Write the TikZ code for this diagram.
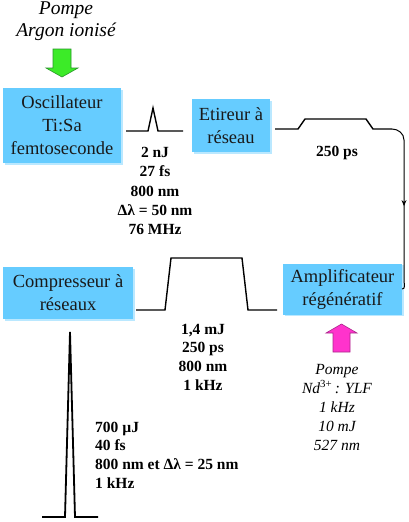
\documentclass[tikz,border=0pt]{standalone}
\usepackage{fontspec}
\setmainfont{Liberation Serif}
\usetikzlibrary{arrows.meta,decorations.markings,shadows}
\definecolor{boxblue}{RGB}{102,204,255}
\definecolor{pumpgreen}{RGB}{60,235,40}
\definecolor{pumpgreenedge}{RGB}{40,150,40}
\definecolor{pumpmag}{RGB}{255,51,204}
\definecolor{pumpmagedge}{RGB}{170,40,140}
\tikzset{
  stage/.style={fill=boxblue, inner sep=0pt, align=center, text=black!90,
    font=\fontsize{18.5}{23}\selectfont,
    drop shadow={shadow xshift=1.5pt, shadow yshift=-1.5pt, fill=boxblue!45, opacity=1}},
  data/.style={align=center, inner sep=0pt, font=\fontsize{15.5}{19.2}\selectfont\bfseries},
  datal/.style={align=left, anchor=west, inner sep=0pt, font=\fontsize{15.5}{18.7}\selectfont\bfseries},
  pumptext/.style={align=center, inner sep=0pt, font=\fontsize{15.5}{19}\selectfont\itshape},
  pulse/.style={line width=1.4pt, line join=miter},
  conn/.style={line width=1pt, postaction={decorate},
    decoration={markings, mark=at position 0.5 with {\arrow{Stealth[length=6pt,width=5pt]}}}},
}
\begin{document}
\begin{tikzpicture}[x=1pt,y=-1pt]
\useasboundingbox (0,0) rectangle (409,522);
\fill[white] (0,0) rectangle (409,522);

% top pump
\node[pumptext, font=\fontsize{19.5}{22}\selectfont\itshape] (pumpA) at (66,21) {Pompe\\Argon ionisé};
\draw[fill=pumpgreen, draw=pumpgreenedge, line width=0.6pt]
  (53,49) -- (71,49) -- (71,68) -- (78,68) -- (62,77) -- (46,68) -- (53,68) -- cycle;

% boxes
\node[stage, minimum width=118pt, minimum height=75pt] (osc) at (62,125.5) {Oscillateur\\Ti:Sa\\femtoseconde};
\node[stage, minimum width=78pt, minimum height=53pt] (str) at (231,125.5) {Etireur à\\réseau};
\node[stage, minimum width=130pt, minimum height=52pt] (comp) at (68,293) {Compresseur à\\réseaux};
\node[stage, minimum width=119pt, minimum height=51pt] (amp) at (342.5,289) {Amplificateur\\régénératif};

% pulse 1
\coordinate (p1s) at (126,131);
\coordinate (p1e) at (183,131);
\draw[pulse] (p1s) -- (148,131) -- (153,108) -- (158,131) -- (p1e);
\node[data] (d1) at (155,191) {2 nJ\\27 fs\\800 nm\\Δλ = 50 nm\\76 MHz};

% pulse 2
\coordinate (p2s) at (275,129);
\coordinate (p2e) at (392,129);
\draw[pulse] (p2s) -- (298,129) -- (305,119) -- (366,119) -- (373,129) -- (p2e);
\node[data] (d2) at (337,153) {250 ps};

% connector stretcher -> amplifier
\draw[conn] (p2e) to[out=0,in=90] (404,140) -- (404,280) to[out=-90,in=0] (amp.east);

% pulse 3
\coordinate (p3s) at (136,310);
\coordinate (p3e) at (277,310);
\draw[pulse] (p3s) -- (165,310) -- (171,258) -- (242,258) -- (248,310) -- (p3e);
\node[data, font=\fontsize{15.5}{18.7}\selectfont\bfseries] (d3) at (203,357) {1,4 mJ\\250 ps\\800 nm\\1 kHz};

% bottom pump
\draw[fill=pumpmag, draw=pumpmagedge, line width=0.6pt]
  (333,352) -- (350,352) -- (350,333) -- (357,333) -- (341.5,324) -- (326,333) -- (333,333) -- cycle;
\node[pumptext] (pumpB) at (337,407) {Pompe\\Nd\textsuperscript{\upshape 3+}\,: YLF\\1 kHz\\10 mJ\\527 nm};

% output pulse
\coordinate (p4s) at (42,517);
\coordinate (p4e) at (98,517);
\draw[pulse, line width=1.8pt] (p4s) -- (65,517) -- (70,332) -- (75,517) -- (p4e);
\node[datal] (d4) at (95,455) {700 µJ\\40 fs\\800 nm et Δλ = 25 nm\\1 kHz};
\end{tikzpicture}
\end{document}
